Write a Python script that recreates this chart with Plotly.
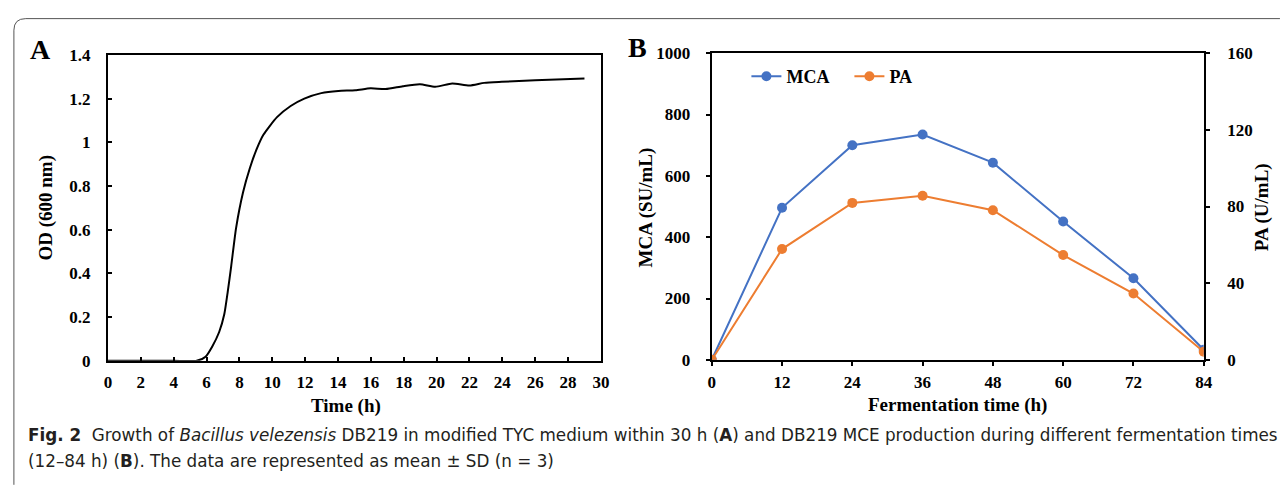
import plotly.graph_objects as go

W, H = 1284, 490

# Panel A: growth curve (OD600 vs time)
time_h = [0, 2, 4, 5.4, 5.94, 6.35, 6.77, 7.08, 7.29, 7.5, 7.8, 8.22, 8.63, 9.05, 9.46,
          10.29, 11.12, 11.95, 12.98, 14.02, 15.05, 15.98, 16.9, 17.95, 18.99, 19.92,
          20.95, 22.0, 22.9, 23.96, 26.0, 29.0]
od600 = [0, 0, 0, 0, 0.019, 0.066, 0.132, 0.213, 0.316, 0.433, 0.609, 0.771, 0.881, 0.969, 1.035,
         1.116, 1.167, 1.201, 1.226, 1.236, 1.239, 1.248, 1.245, 1.258, 1.267, 1.255,
         1.27, 1.261, 1.273, 1.278, 1.285, 1.293]
a_xticks = list(range(0, 31, 2))
a_yticks = [0, 0.2, 0.4, 0.6, 0.8, 1, 1.2, 1.4]

# Panel B: MCA and PA during fermentation
ferm_time = [0, 12, 24, 36, 48, 60, 72, 84]
mca = [0, 496, 700, 735, 643, 451, 266, 33]
pa = [0, 57.8, 81.9, 85.6, 78.1, 54.7, 34.6, 4.2]
b_xticks = ferm_time
b_yticks = [0, 200, 400, 600, 800, 1000]
b_y2ticks = [0, 40, 80, 120, 160]

BLUE = "#4472C4"
ORANGE = "#ED7D31"
SERIF = "Liberation Serif"
CAP = "DejaVu Sans"


def px(x):
    return x / W


def py(y):
    return (H - y) / H


def bold_labels(vals):
    return ["<b>%g</b>" % v for v in vals]


fig = go.Figure()

fig.add_trace(go.Scatter(x=time_h, y=od600, mode="lines", line=dict(color="black", width=2, shape="spline", smoothing=0.6),
                         xaxis="x", yaxis="y", showlegend=False))

fig.add_trace(go.Scatter(x=ferm_time, y=mca, mode="lines+markers", name="<b>MCA</b>",
                         line=dict(color=BLUE, width=2), marker=dict(size=10, color=BLUE),
                         xaxis="x2", yaxis="y2"))
fig.add_trace(go.Scatter(x=ferm_time, y=pa, mode="lines+markers", name="<b>PA</b>",
                         line=dict(color=ORANGE, width=2), marker=dict(size=10, color=ORANGE),
                         xaxis="x2", yaxis="y3"))

tickfont = dict(family=SERIF, size=17, color="black")
axis_common = dict(showline=True, linecolor="black", linewidth=2, mirror=True,
                   showgrid=False, zeroline=False, tickfont=tickfont, tickcolor="black", tickwidth=1.5)

fig.update_layout(
    width=W, height=H,
    margin=dict(l=0, r=0, t=0, b=0),
    paper_bgcolor="white", plot_bgcolor="white",
    xaxis=dict(domain=[px(105), px(603)], range=[0, 30], tickvals=a_xticks, ticktext=bold_labels(a_xticks),
               ticks="inside", ticklen=4, anchor="y", ticklabelstandoff=5, layer="above traces", **axis_common),
    yaxis=dict(domain=[py(366), py(48)], range=[0, 1.4], tickvals=a_yticks, ticktext=bold_labels(a_yticks),
               ticks="inside", ticklen=4, anchor="x", ticklabelstandoff=12, **axis_common),
    xaxis2=dict(domain=[px(715), px(1212)], range=[0, 84], tickvals=b_xticks, ticktext=bold_labels(b_xticks),
                ticks="outside", ticklen=4, anchor="y2", ticklabelstandoff=2, **axis_common),
    yaxis2=dict(domain=[py(365), py(46)], range=[0, 1000], tickvals=b_yticks, ticktext=bold_labels(b_yticks),
                ticks="outside", ticklen=4, anchor="x2", ticklabelstandoff=12, **axis_common),
    yaxis3=dict(range=[0, 160], tickvals=b_y2ticks, ticktext=bold_labels(b_y2ticks), ticks="outside",
                ticklen=4, overlaying="y2", side="right", anchor="x2", showline=True,
                linecolor="black", linewidth=2, showgrid=False, zeroline=False, tickfont=tickfont,
                tickcolor="black", tickwidth=1.5, ticklabelstandoff=14),
    legend=dict(orientation="h", x=px(750), y=py(51), xanchor="left", yanchor="top",
                bgcolor="rgba(0,0,0,0)", font=dict(family=SERIF, size=18, color="black"),
                entrywidth=58, entrywidthmode="pixels", tracegroupgap=0),
    showlegend=True,
)

ann = []
# panel letters
ann.append(dict(text="<b>A</b>", x=px(37), y=py(42), font=dict(family=SERIF, size=28, color="black")))
ann.append(dict(text="<b>B</b>", x=px(640), y=py(40), font=dict(family=SERIF, size=28, color="black")))
# axis titles
ann.append(dict(text="<b>Time (h)</b>", x=px(345), y=py(413), font=dict(family=SERIF, size=19, color="black")))
ann.append(dict(text="<b>OD (600 nm)</b>", x=px(42), y=py(207), textangle=-90,
                font=dict(family=SERIF, size=19, color="black")))
ann.append(dict(text="<b>Fermentation time (h)</b>", x=px(963), y=py(412), font=dict(family=SERIF, size=19, color="black")))
ann.append(dict(text="<b>MCA (SU/mL)</b>", x=px(649), y=py(206), textangle=-90,
                font=dict(family=SERIF, size=19, color="black")))
ann.append(dict(text="<b>PA (U/mL)</b>", x=px(1271), y=py(206), textangle=-90,
                font=dict(family=SERIF, size=19, color="black")))
# caption
ann.append(dict(text="<b>Fig. 2</b>  Growth of <i>Bacillus velezensis</i> DB219 in modified TYC medium within 30 h (<b>A</b>) and DB219 MCE production during different fermentation times",
                x=px(22), y=py(443), xanchor="left", font=dict(family=CAP, size=16.8, color="#231f20")))
ann.append(dict(text="(12–84 h) (<b>B</b>). The data are represented as mean ± SD (n = 3)",
                x=px(22), y=py(470), xanchor="left", font=dict(family=CAP, size=16.8, color="#231f20")))

for a in ann:
    a.setdefault("xanchor", "center")
    a.update(xref="paper", yref="paper", yanchor="middle", showarrow=False)
fig.update_layout(annotations=ann)

# card border with rounded top-left corner
r = 12
path = (f"M {px(10)},{py(H + 5)} L {px(10)},{py(10 + r)} "
        f"Q {px(10)},{py(10)} {px(10 + r)},{py(10)} L {px(W + 5)},{py(10)}")
fig.add_shape(type="path", path=path, xref="paper", yref="paper",
              line=dict(color="#555555", width=1))

fig.write_html("out.html")
